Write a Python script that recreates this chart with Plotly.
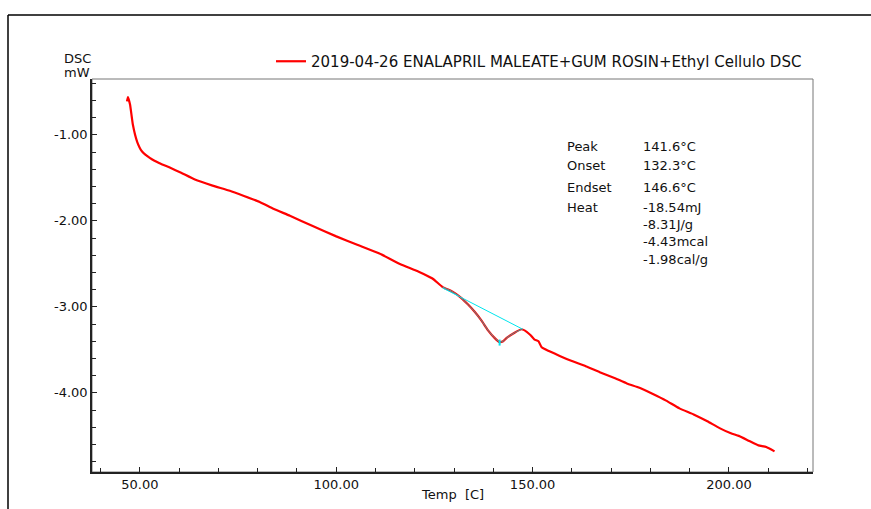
import plotly.graph_objects as go

# DSC curve (Temp [C], DSC [mW])
temp = [46.7, 46.96, 47.5, 48.2, 49.3, 50.5, 52.6, 55.0, 57.6, 60.5, 64.0, 68.5, 72.9, 76.5, 80.5,
        84.0, 88.2, 94.0, 100.0, 105.5, 111.0, 116.2, 121.0, 124.5, 127.1, 129.5, 131.4, 133.5,
        135.3, 137.0, 138.6, 140.3, 141.6, 142.5, 143.4, 145.4, 147.2, 148.5, 149.5, 150.5,
        151.5, 152.3, 154.0, 156.9, 160.0, 163.5, 167.1, 171.0, 174.0, 177.2, 180.5, 184.0,
        187.4, 191.0, 194.5, 197.6, 200.5, 202.5, 205.2, 207.5, 209.5, 211.6]
dsc = [-0.61, -0.56, -0.65, -0.88, -1.08, -1.19, -1.27, -1.33, -1.38, -1.44, -1.52, -1.59, -1.65,
       -1.71, -1.78, -1.86, -1.94, -2.06, -2.18, -2.28, -2.38, -2.50, -2.59, -2.67, -2.77, -2.82,
       -2.88, -2.97, -3.06, -3.16, -3.27, -3.36, -3.41, -3.40, -3.36, -3.30, -3.26, -3.29, -3.33,
       -3.38, -3.40, -3.47, -3.51, -3.57, -3.63, -3.69, -3.76, -3.83, -3.89, -3.94, -4.01, -4.09,
       -4.18, -4.25, -4.33, -4.41, -4.47, -4.50, -4.56, -4.61, -4.63, -4.68]

# axis ticks
x_ticks = [50, 100, 150, 200]
x_ticktext = ["50.00", "100.00", "150.00", "200.00"]
y_ticks = [-1, -2, -3, -4]
y_ticktext = ["-1.00", "-2.00", "-3.00", "-4.00"]

# Peak analysis: baseline end points and peak
base_t = [127.1, 147.5]
base_v = [-2.78, -3.26]
peak_t = [141.6, 141.6]
peak_v = [-3.38, -3.45]

labels = ["Peak", "Onset", "Endset", "Heat", "", "", ""]
values = ["141.6°C", "132.3°C", "146.6°C", "-18.54mJ", "-8.31J/g", "-4.43mcal", "-1.98cal/g"]

legend_name = "2019-04-26 ENALAPRIL MALEATE+GUM ROSIN+Ethyl Cellulo DSC"
FONT = "DejaVu Sans, Liberation Sans, Arial, sans-serif"

fig = go.Figure()

# cyan overlay of the curve inside the peak region
seg_t = [t for t in temp if base_t[0] <= t <= base_t[1]]
seg_v = [v for t, v in zip(temp, dsc) if base_t[0] <= t <= base_t[1]]

fig.add_trace(go.Scatter(x=temp, y=dsc, mode="lines", name=legend_name,
                         line=dict(color="#ff0000", width=2.2, shape="spline", smoothing=0.4)))
fig.add_trace(go.Scatter(x=seg_t, y=seg_v, mode="lines", showlegend=False,
                         line=dict(color="#00e5e5", width=1, shape="spline", smoothing=0.4),
                         opacity=0.7))
fig.add_trace(go.Scatter(x=base_t, y=base_v, mode="lines", showlegend=False,
                         line=dict(color="#00e5ee", width=1)))
fig.add_trace(go.Scatter(x=peak_t, y=peak_v, mode="lines", showlegend=False,
                         line=dict(color="#00e5ee", width=2)))

L, R, T, B = 92, 813, 79, 472
W, H = 871, 509
pw, ph = R - L, B - T


def px(x):
    return (x - L) / pw


def py(y):
    return (B - y) / ph


# text annotations for peak analysis
label_y = [146, 165, 187, 207, 224, 241, 259]
for lab, val, yy in zip(labels, values, label_y):
    if lab:
        fig.add_annotation(x=px(565), y=py(yy), xref="paper", yref="paper", text=lab,
                           showarrow=False, xanchor="left", yanchor="middle",
                           font=dict(size=13, color="#111", family=FONT))
    fig.add_annotation(x=px(641), y=py(yy), xref="paper", yref="paper", text=val,
                       showarrow=False, xanchor="left", yanchor="middle",
                       font=dict(size=13, color="#111", family=FONT))

fig.add_annotation(x=px(62), y=py(58), xref="paper", yref="paper", text="DSC",
                   showarrow=False, xanchor="left", yanchor="middle",
                   font=dict(size=13, color="#111", family=FONT))
fig.add_annotation(x=px(62), y=py(72), xref="paper", yref="paper", text="mW",
                   showarrow=False, xanchor="left", yanchor="middle",
                   font=dict(size=13, color="#111", family=FONT))
fig.add_annotation(x=px(452), y=py(495), xref="paper", yref="paper", text="Temp  [C]",
                   showarrow=False, xanchor="center", yanchor="middle",
                   font=dict(size=13, color="#111", family=FONT))

# outer frame and plot border
fig.add_shape(type="line", xref="paper", yref="paper", x0=px(8), x1=px(880), y0=py(15), y1=py(15),
              line=dict(color="#000", width=1.5))
fig.add_shape(type="line", xref="paper", yref="paper", x0=px(8), x1=px(8), y0=py(15), y1=py(520),
              line=dict(color="#000", width=1.5))
fig.add_shape(type="rect", xref="paper", yref="paper", x0=0, x1=1, y0=0, y1=1,
              line=dict(color="#777", width=1), layer="below")

fig.update_layout(
    width=W, height=H,
    margin=dict(l=L, r=W - R, t=T, b=H - B),
    paper_bgcolor="white", plot_bgcolor="white",
    font=dict(family=FONT, size=13, color="#111"),
    showlegend=True,
    legend=dict(x=px(271), y=py(45), xanchor="left", yanchor="top",
                bgcolor="rgba(0,0,0,0)", font=dict(size=15, family=FONT)),
    xaxis=dict(range=[37.8, 221.4], tickvals=x_ticks, ticktext=x_ticktext, automargin=False,
               showgrid=False, zeroline=False, showline=True, linecolor="#222", linewidth=1.5,
               ticks="inside", ticklen=5, tickcolor="#222",
               minor=dict(dtick=10, tick0=0, ticks="inside", ticklen=4, tickcolor="#222")),
    yaxis=dict(range=[-4.92, -0.35], tickvals=y_ticks, ticktext=y_ticktext, automargin=False,
               showgrid=False, zeroline=False, showline=True, linecolor="#222", linewidth=1.5,
               ticks="inside", ticklen=5, tickcolor="#222",
               minor=dict(dtick=0.2, tick0=0, ticks="inside", ticklen=4, tickcolor="#222")),
)

fig.write_html("out.html")
